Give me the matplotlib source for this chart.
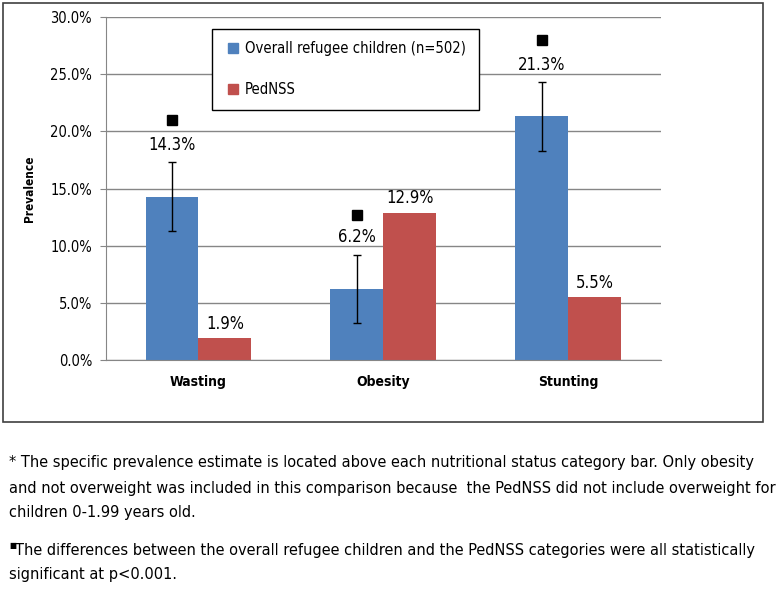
import numpy as np
import matplotlib.pyplot as plt
from matplotlib.patches import Rectangle
from matplotlib.lines import Line2D

plt.rcParams['font.family'] = ['DejaVu Sans']
plt.rcParams['font.stretch'] = 'condensed'

categories = ["Wasting", "Obesity", "Stunting"]
refugee = [14.3, 6.2, 21.3]
refugee_err = [3.0, 3.0, 3.0]
pednss = [1.9, 12.9, 5.5]
sig_marker = [21.0, 12.7, 28.0]
yticks = [0, 5, 10, 15, 20, 25, 30]
series_names = ["Overall refugee children (n=502)", "PedNSS"]

blue = "#4f81bd"
red = "#c0504d"
grey = "#868686"

fig = plt.figure(figsize=(7.82, 5.89), dpi=100)
ax = fig.add_axes([0.1355, 0.3888, 0.7095, 0.5823])

x = np.arange(len(categories))
w = 0.286
ax.bar(x - w/2, refugee, w, color=blue, zorder=2)
ax.bar(x + w/2, pednss, w, color=red, zorder=2)
ax.errorbar(x - w/2, refugee, yerr=refugee_err, fmt="none", ecolor="black",
            elinewidth=1, capsize=3, capthick=1, zorder=3)
ax.plot(x - w/2, sig_marker, "s", color="black", markersize=7, zorder=3)

for i in range(len(categories)):
    ax.annotate(f"{refugee[i]:.1f}%", (x[i] - w/2, refugee[i] + refugee_err[i]),
                xytext=(0, 6), textcoords="offset points", ha="center", va="bottom", fontsize=12)
    ax.annotate(f"{pednss[i]:.1f}%", (x[i] + w/2, pednss[i]),
                xytext=(0, 4), textcoords="offset points", ha="center", va="bottom", fontsize=12)

ax.set_xlim(-0.5, 2.5)
ax.set_ylim(0, 30)
ax.set_yticks(yticks)
ax.set_yticklabels([f"{v:.1f}%" for v in yticks], fontsize=10.5)
ax.set_xticks(x)
ax.set_xticklabels(categories, fontsize=10, fontweight="bold")
ax.tick_params(axis="x", length=0, pad=11)
ax.tick_params(axis="y", length=4, color=grey, pad=6)
ax.yaxis.grid(True, color=grey, linewidth=1, zorder=0)
ax.set_axisbelow(True)
for s in ["top", "right"]:
    ax.spines[s].set_visible(False)
for s in ["left", "bottom"]:
    ax.spines[s].set_color(grey)
ax.set_ylabel("Prevalence", fontsize=8.5, fontweight="bold", labelpad=10)

handles = [Line2D([], [], marker="s", linestyle="none", color=c, markersize=6.5)
           for c in (blue, red)]
leg = ax.legend(handles, series_names, loc="upper left",
                bbox_to_anchor=(0.271, 0.8166, 0.3415, 0.1344),
                bbox_transform=fig.transFigure, mode="expand", fontsize=10.6,
                borderaxespad=0, handlelength=1.2, handletextpad=0.2,
                labelspacing=1.75, borderpad=0.85, fancybox=False, framealpha=1,
                edgecolor="black")
leg.get_frame().set_linewidth(1)

fig.patches.append(Rectangle((0.0038, 0.2835), 0.9719, 0.711, transform=fig.transFigure,
                             fill=False, edgecolor="#404040", linewidth=1.2))

notes = [
    (0.0115, 1 - 463/589, "* The specific prevalence estimate is located above each nutritional status category bar. Only obesity"),
    (0.0115, 1 - 488/589, "and not overweight was included in this comparison because  the PedNSS did not include overweight for"),
    (0.0115, 1 - 512/589, "children 0-1.99 years old."),
    (0.0115, 1 - 575/589, "significant at p<0.001."),
]
for nx, ny, t in notes:
    fig.text(nx, ny, t, fontsize=11.7, va="center", ha="left")
fig.text(0.0115, 1 - 550/589, "\u25a0", fontsize=6, va="bottom", ha="left")
fig.text(0.019, 1 - 550/589, "The differences between the overall refugee children and the PedNSS categories were all statistically",
         fontsize=11.7, va="center", ha="left")

fig.savefig("out.png", dpi=100)
